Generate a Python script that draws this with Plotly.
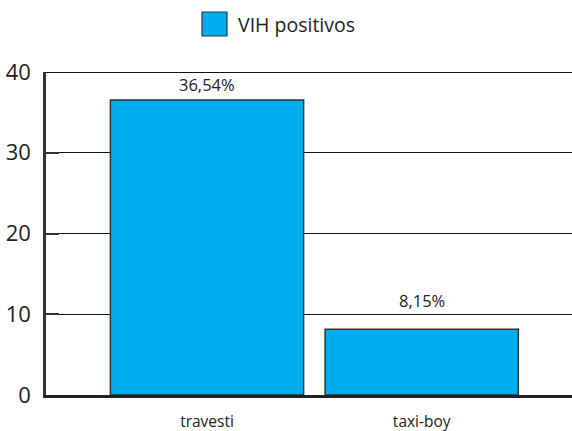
import plotly.graph_objects as go

categories = ["travesti", "taxi-boy"]
values = [36.54, 8.15]
value_labels = ["36,54%", "8,15%"]
series_name = "VIH positivos"
y_ticks = [0, 10, 20, 30, 40]

FONT = "Open Sans"
BAR_COLOR = "#00AEEF"

fig = go.Figure()
fig.add_trace(go.Bar(
    x=categories, y=values, name=series_name,
    marker=dict(color=BAR_COLOR, line=dict(color="#333333", width=1.5)),
    width=0.9, showlegend=False, hoverinfo="skip",
))

label_shifts = [15, 29]
for c, v, t, s in zip(categories, values, value_labels, label_shifts):
    fig.add_annotation(x=c, y=v, text=t, showarrow=False, yshift=s,
                       font=dict(family=FONT, size=16.5, color="#222222"))

# legend (box + text)
fig.add_shape(type="rect", xref="paper", yref="paper",
              x0=(202 - 46) / 526, x1=(227 - 46) / 526,
              y0=(395 - 36) / 323, y1=(395 - 12) / 323,
              fillcolor=BAR_COLOR, line=dict(color="#333333", width=1.2))
fig.add_annotation(xref="paper", yref="paper", x=(236 - 46) / 526, y=(395 - 24) / 323,
                   xanchor="left", yanchor="middle", text=series_name, showarrow=False,
                   font=dict(family=FONT, size=19.5, color="#222222"))

# top gridline at 40 (plotly omits the grid line at the range edge)
fig.add_shape(type="line", xref="paper", yref="y", x0=0, x1=1, y0=40, y1=40,
              line=dict(color="#111111", width=2), layer="below")

fig.update_layout(
    width=572, height=431,
    margin=dict(l=46, r=0, t=72, b=36),
    paper_bgcolor="white", plot_bgcolor="white",
    font=dict(family=FONT, color="#222222"),
    showlegend=False,
    xaxis=dict(type="category", range=[-0.75, 1.7], showgrid=False,
               showline=True, linecolor="#222222", linewidth=2.5,
               ticks="", tickfont=dict(size=15.5, family=FONT),
               ticklabelstandoff=11, zeroline=False, automargin=False),
    yaxis=dict(range=[0, 40], tickvals=y_ticks, showgrid=True,
               gridcolor="#111111", gridwidth=1,
               showline=True, linecolor="#333333", linewidth=2.5,
               ticks="inside", ticklen=13, tickwidth=2, tickcolor="#333333",
               tickfont=dict(size=22, family=FONT), ticklabelstandoff=8,
               zeroline=False, automargin=False),
)

fig.write_html("out.html", config={"displayModeBar": False},
               post_script="document.body.style.margin='0';document.body.style.overflow='hidden';")
